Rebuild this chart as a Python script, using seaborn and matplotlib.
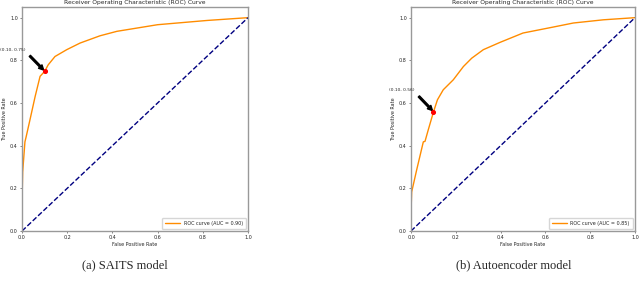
import matplotlib
matplotlib.use("Agg")
import matplotlib.pyplot as plt
import seaborn as sns
import pandas as pd

# ROC curve, SAITS model (AUC = 0.90)
fpr_saits = [0.0, 0.0, 0.0, 0.003, 0.013, 0.018, 0.035, 0.058, 0.08, 0.10, 0.116,
             0.146, 0.198, 0.257, 0.345, 0.42, 0.60, 0.82, 1.0]
tpr_saits = [0.0, 0.10, 0.136, 0.277, 0.418, 0.44, 0.52, 0.63, 0.725, 0.748, 0.779,
             0.818, 0.85, 0.881, 0.915, 0.936, 0.967, 0.987, 1.0]
# ROC curve, Autoencoder model (AUC = 0.85)
fpr_ae = [0.0, 0.0, 0.003, 0.025, 0.055, 0.0625, 0.077, 0.10, 0.118, 0.144, 0.189,
          0.234, 0.271, 0.323, 0.397, 0.50, 0.635, 0.725, 0.859, 1.0]
tpr_ae = [0.0, 0.09, 0.183, 0.285, 0.418, 0.42, 0.474, 0.557, 0.615, 0.662, 0.709,
          0.771, 0.81, 0.85, 0.884, 0.928, 0.956, 0.975, 0.99, 1.0]

models = ["SAITS", "Autoencoder"]
aucs = [0.90, 0.85]
points = [(0.10, 0.75), (0.10, 0.56)]
captions = ["(a) SAITS model", "(b) Autoencoder model"]
diag = [0.0, 1.0]
ticks = [0.0, 0.2, 0.4, 0.6, 0.8, 1.0]

sns.set_style("ticks")
plt.rcParams["font.family"] = ["DejaVu Sans"]

fig = plt.figure(figsize=(6.4, 2.84), dpi=100)
rects = [[22/640, 53/284, 226/640, 224/284], [411/640, 53/284, 224/640, 224/284]]
cap_x = [125/640, 514/640]
curves = [(fpr_saits, tpr_saits), (fpr_ae, tpr_ae)]

for i in range(2):
    ax = fig.add_axes(rects[i])
    fpr, tpr = curves[i]
    df = pd.DataFrame({"fpr": fpr, "tpr": tpr})
    sns.lineplot(data=df, x="fpr", y="tpr", ax=ax, color="darkorange", lw=1.0,
                 sort=False, estimator=None,
                 label=f"ROC curve (AUC = {aucs[i]:.2f})")
    sns.lineplot(x=diag, y=diag, ax=ax, color="navy", lw=1.0, linestyle="--",
                 estimator=None)
    px, py = points[i]
    ax.scatter([px], [py], color="red", s=7, zorder=5)
    ax.annotate(f"({px:.2f}, {py:.2f})", xy=(px, py), xytext=(px - 0.14, py + 0.1),
                ha="center", va="center", fontsize=3.2,
                arrowprops=dict(facecolor="black", edgecolor="black", shrink=0.05,
                                width=1.2, headwidth=3.5, headlength=3.5))
    ax.set_xlim(0.0, 1.0)
    ax.set_ylim(0.0, 1.05)
    ax.set_xticks(ticks)
    ax.set_yticks(ticks)
    ax.tick_params(labelsize=3.5, length=1.5, width=0.5, pad=1.5, color="#555555")
    ax.set_xlabel("False Positive Rate", fontsize=3.5, labelpad=1.5)
    ax.set_ylabel("True Positive Rate", fontsize=3.5, labelpad=2)
    ax.set_title("Receiver Operating Characteristic (ROC) Curve", fontsize=4.3, pad=2)
    for s in ax.spines.values():
        s.set_color("#999999")
        s.set_linewidth(1.0)
    leg = ax.legend(loc="lower right", fontsize=3.5, handlelength=3, borderpad=0.6,
                    frameon=True)
    fig.text(cap_x[i], 19/284, captions[i], ha="center", va="center",
             family="Liberation Serif", fontsize=9)

fig.savefig("out.png", dpi=100)
